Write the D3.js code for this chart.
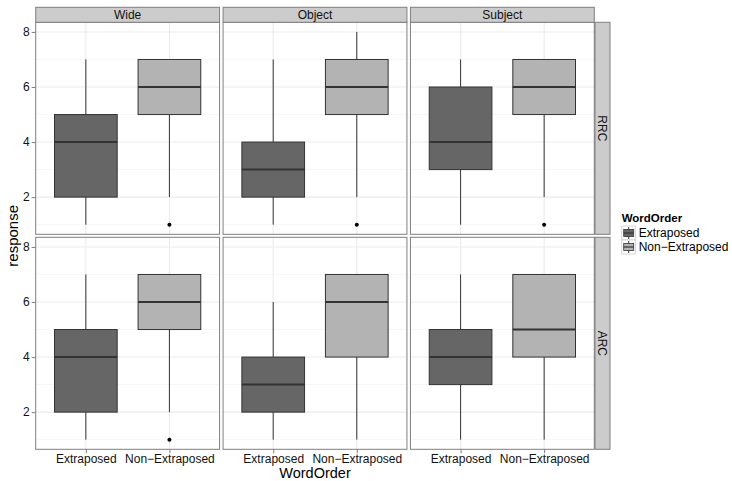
<!DOCTYPE html>
<html>
<head>
<meta charset="utf-8">
<script src="https://cdn.jsdelivr.net/npm/d3@7"></script>
<style>
  html, body { margin: 0; padding: 0; background: #fff; }
  svg text { font-family: "Liberation Sans", Arial, Helvetica, sans-serif; }
</style>
</head>
<body>
<svg id="chart" width="732" height="481"></svg>
<script>
// Facet layout: rows are clause types, columns are conditions
const rowLabels = ["RRC", "ARC"];
const colLabels = ["Wide", "Object", "Subject"];
const wordOrder = ["Extraposed", "Non-Extraposed"];
const yTicks = [2, 4, 6, 8];

// Panels listed row by row: RRC Wide, RRC Object, RRC Subject, ARC Wide, ARC Object, ARC Subject
const panelRow = ["RRC", "RRC", "RRC", "ARC", "ARC", "ARC"];
const panelCol = ["Wide", "Object", "Subject", "Wide", "Object", "Subject"];

// Box statistics for "Extraposed"
const extLower  = [1, 1, 1, 1, 1, 1];
const extQ1     = [2, 2, 3, 2, 2, 3];
const extMedian = [4, 3, 4, 4, 3, 4];
const extQ3     = [5, 4, 6, 5, 4, 5];
const extUpper  = [7, 7, 7, 7, 6, 7];
const extOutliers = [[], [], [], [], [], []];

// Box statistics for "Non-Extraposed"
const nonLower  = [2, 2, 2, 2, 1, 1];
const nonQ1     = [5, 5, 5, 5, 4, 4];
const nonMedian = [6, 6, 6, 6, 6, 5];
const nonQ3     = [7, 7, 7, 7, 7, 7];
const nonUpper  = [7, 8, 7, 7, 7, 7];
const nonOutliers = [[1], [1], [1], [1], [], []];

const fillColors = ["#666666", "#b3b3b3"];

// Build per-box records
const boxes = [];
panelRow.forEach((r, i) => {
  boxes.push({row: r, col: panelCol[i], group: wordOrder[0],
    lower: extLower[i], q1: extQ1[i], median: extMedian[i], q3: extQ3[i], upper: extUpper[i], outliers: extOutliers[i]});
  boxes.push({row: r, col: panelCol[i], group: wordOrder[1],
    lower: nonLower[i], q1: nonQ1[i], median: nonMedian[i], q3: nonQ3[i], upper: nonUpper[i], outliers: nonOutliers[i]});
});

const svg = d3.select("#chart");

// Geometry
const plotLeft = 35.7, plotRight = 594.3;
const hGap = 3.5, vGap = 3;
const stripH = 15, stripW = 15;
const plotTop = 7.3;
const panelTop0 = plotTop + stripH;
const panelH = 212;
const panelW = (plotRight - plotLeft - 2 * hGap) / 3;

const colX = d3.scaleOrdinal().domain(colLabels).range(colLabels.map((c, i) => plotLeft + i * (panelW + hGap)));
const rowY = d3.scaleOrdinal().domain(rowLabels).range(rowLabels.map((r, i) => panelTop0 + i * (panelH + vGap)));

// Discrete x with 0.6 expansion on each side
const x = d3.scalePoint().domain(wordOrder).range([0, panelW]).padding(0.6);
const step = panelW / 2.2;
const boxW = step * 0.75;
// Continuous y, limits 1..8 expanded by 5%
const y = d3.scaleLinear().domain([0.65, 8.35]).range([panelH, 0]);
const color = d3.scaleOrdinal().domain(wordOrder).range(fillColors);

const minorTicks = [1, 3, 5, 7];

rowLabels.forEach(r => {
  colLabels.forEach(c => {
    const g = svg.append("g").attr("transform", `translate(${colX(c)},${rowY(r)})`);
    g.append("rect").attr("width", panelW).attr("height", panelH).attr("fill", "#fff");
    // minor grid
    g.selectAll(".minor").data(minorTicks).join("line")
      .attr("x1", 0).attr("x2", panelW)
      .attr("y1", d => y(d)).attr("y2", d => y(d))
      .attr("stroke", "#f7f7f7").attr("stroke-width", 1);
    // major grid
    g.selectAll(".majorY").data(yTicks).join("line")
      .attr("x1", 0).attr("x2", panelW)
      .attr("y1", d => y(d)).attr("y2", d => y(d))
      .attr("stroke", "#ebebeb").attr("stroke-width", 1.1);
    g.selectAll(".majorX").data(wordOrder).join("line")
      .attr("x1", d => x(d)).attr("x2", d => x(d))
      .attr("y1", 0).attr("y2", panelH)
      .attr("stroke", "#ebebeb").attr("stroke-width", 1.1);

    // boxes
    const data = boxes.filter(b => b.row === r && b.col === c);
    const bg = g.selectAll(".box").data(data).join("g");
    bg.append("line")
      .attr("x1", d => x(d.group)).attr("x2", d => x(d.group))
      .attr("y1", d => y(d.q3)).attr("y2", d => y(d.upper))
      .attr("stroke", "#333").attr("stroke-width", 1);
    bg.append("line")
      .attr("x1", d => x(d.group)).attr("x2", d => x(d.group))
      .attr("y1", d => y(d.q1)).attr("y2", d => y(d.lower))
      .attr("stroke", "#333").attr("stroke-width", 1);
    bg.append("rect")
      .attr("x", d => x(d.group) - boxW / 2).attr("width", boxW)
      .attr("y", d => y(d.q3)).attr("height", d => y(d.q1) - y(d.q3))
      .attr("fill", d => color(d.group)).attr("stroke", "#333").attr("stroke-width", 1);
    bg.append("line")
      .attr("x1", d => x(d.group) - boxW / 2).attr("x2", d => x(d.group) + boxW / 2)
      .attr("y1", d => y(d.median)).attr("y2", d => y(d.median))
      .attr("stroke", "#333").attr("stroke-width", 2);
    bg.each(function(d) {
      d3.select(this).selectAll("circle").data(d.outliers).join("circle")
        .attr("cx", x(d.group)).attr("cy", v => y(v)).attr("r", 2).attr("fill", "#000");
    });

    // panel border
    g.append("rect").attr("width", panelW).attr("height", panelH)
      .attr("fill", "none").attr("stroke", "#7f7f7f").attr("stroke-width", 1);

    // left axis on first column
    if (c === colLabels[0]) {
      const ax = g.append("g").call(d3.axisLeft(y).tickValues(yTicks).tickSize(4).tickPadding(2));
      ax.select(".domain").remove();
      ax.selectAll(".tick line").attr("stroke", "#7f7f7f");
      ax.selectAll(".tick text").attr("font-size", 12).attr("fill", "#111");
    }
    // bottom axis on last row
    if (r === rowLabels[rowLabels.length - 1]) {
      const ax = g.append("g").attr("transform", `translate(0,${panelH})`)
        .call(d3.axisBottom(x).tickSize(4).tickPadding(1.5));
      ax.select(".domain").remove();
      ax.selectAll(".tick line").attr("stroke", "#7f7f7f");
      ax.selectAll(".tick text").attr("font-size", 12).attr("fill", "#111")
        .text(d => d.replace("-", "\u2212"));
    }
  });
});

// top strips
colLabels.forEach(c => {
  const g = svg.append("g").attr("transform", `translate(${colX(c)},${plotTop})`);
  g.append("rect").attr("width", panelW).attr("height", stripH)
    .attr("fill", "#cccccc").attr("stroke", "#7f7f7f").attr("stroke-width", 1);
  g.append("text").attr("x", panelW / 2).attr("y", stripH / 2 + 4.3)
    .attr("text-anchor", "middle").attr("font-size", 12).attr("fill", "#111").text(c);
});

// right strips
rowLabels.forEach(r => {
  const g = svg.append("g").attr("transform", `translate(${plotRight + 0.7},${rowY(r)})`);
  g.append("rect").attr("width", stripW).attr("height", panelH)
    .attr("fill", "#cccccc").attr("stroke", "#7f7f7f").attr("stroke-width", 1);
  g.append("text").attr("transform", `translate(${stripW / 2 - 4.3},${panelH / 2}) rotate(90)`)
    .attr("text-anchor", "middle").attr("font-size", 12).attr("fill", "#111").text(r);
});

// axis titles
svg.append("text").attr("x", (plotLeft + plotRight) / 2).attr("y", 478)
  .attr("text-anchor", "middle").attr("font-size", 14.5).attr("fill", "#000").text("WordOrder");
svg.append("text").attr("transform", `translate(18,${panelTop0 + panelH + vGap / 2}) rotate(-90)`)
  .attr("text-anchor", "middle").attr("font-size", 15).attr("fill", "#000").text("response");

// legend
const lg = svg.append("g").attr("transform", "translate(621.7,210)");
lg.append("text").attr("x", 0).attr("y", 12).attr("font-size", 11.5).attr("font-weight", "bold")
  .attr("fill", "#000").text("WordOrder");
const keyS = 14;
wordOrder.forEach((w, i) => {
  const k = lg.append("g").attr("transform", `translate(0,${16 + i * keyS})`);
  k.append("rect").attr("width", keyS).attr("height", keyS).attr("fill", "#fff")
    .attr("stroke", "#cccccc").attr("stroke-width", 0.8);
  k.append("line").attr("x1", keyS / 2).attr("x2", keyS / 2).attr("y1", 1).attr("y2", keyS - 1)
    .attr("stroke", "#333").attr("stroke-width", 1);
  k.append("rect").attr("x", 2).attr("y", 3.5).attr("width", keyS - 4).attr("height", keyS - 7)
    .attr("fill", color(w)).attr("stroke", "#333").attr("stroke-width", 0.8);
  k.append("line").attr("x1", 2).attr("x2", keyS - 2).attr("y1", keyS / 2).attr("y2", keyS / 2)
    .attr("stroke", "#333").attr("stroke-width", 1.2);
  k.append("text").attr("x", keyS + 3).attr("y", keyS / 2 + 4.3).attr("font-size", 12)
    .attr("fill", "#000").text(w.replace("-", "\u2212"));
});
</script>
</body>
</html>
